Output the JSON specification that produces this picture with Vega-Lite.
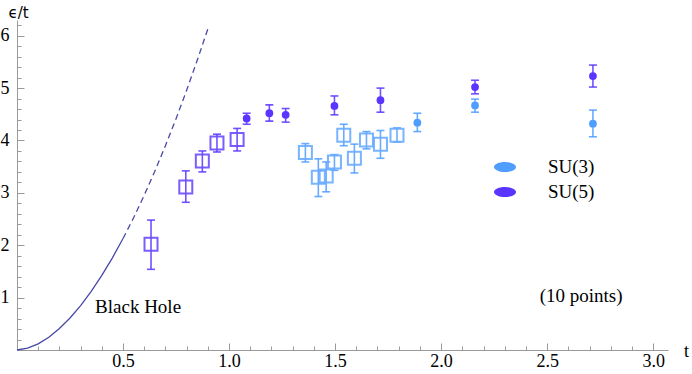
{
  "$schema": "https://vega.github.io/schema/vega-lite/v6.json",
  "autosize": {"type": "none"},
  "width": 651,
  "height": 330,
  "padding": {"left": 17, "top": 20, "right": 24, "bottom": 24},
  "background": "white",
  "config": {
    "font": "Liberation Serif",
    "view": {"stroke": null},
    "style": {"guide-label": {"font": "Liberation Serif"}, "guide-title": {"font": "Liberation Serif"}},
    "axis": {
      "grid": false,
      "domainColor": "#9a9a9a",
      "tickColor": "#9a9a9a",
      "labelFont": "Liberation Serif",
      "labelFontSize": 18,
      "labelColor": "#000000",
      "titleColor": "#000000",
      "titleFontWeight": "normal"
    },
    "legend": {"labelFont": "Liberation Serif"},
    "text": {"font": "Liberation Serif", "fontSize": 19, "color": "#000000"}
  },
  "resolve": {"axis": {"x": "independent", "y": "independent"}},
  "datasets": {
    "curve": [
      {"t": 0, "eps": 0},
      {"t": 0.05, "eps": 0.034},
      {"t": 0.1, "eps": 0.117},
      {"t": 0.15, "eps": 0.244},
      {"t": 0.2, "eps": 0.409},
      {"t": 0.25, "eps": 0.611},
      {"t": 0.3, "eps": 0.848},
      {"t": 0.35, "eps": 1.12},
      {"t": 0.4, "eps": 1.424},
      {"t": 0.45, "eps": 1.76},
      {"t": 0.5, "eps": 2.128},
      {"t": 0.55, "eps": 2.526},
      {"t": 0.6, "eps": 2.955},
      {"t": 0.65, "eps": 3.413},
      {"t": 0.7, "eps": 3.9},
      {"t": 0.75, "eps": 4.415},
      {"t": 0.8, "eps": 4.959},
      {"t": 0.85, "eps": 5.531},
      {"t": 0.9, "eps": 6.13}
    ],
    "labels": [
      {"label": "Black Hole", "t": 0.571, "eps": 0.71},
      {"label": "(10 points)", "t": 2.66, "eps": 0.92}
    ],
    "pts": [
      {"series": "SU(5)", "type": "open", "t": 0.632, "eps": 2.02, "lo": 1.54, "hi": 2.48},
      {"series": "SU(5)", "type": "open", "t": 0.796, "eps": 3.11, "lo": 2.82, "hi": 3.42},
      {"series": "SU(5)", "type": "open", "t": 0.874, "eps": 3.61, "lo": 3.4, "hi": 3.8},
      {"series": "SU(5)", "type": "open", "t": 0.943, "eps": 3.95, "lo": 3.78, "hi": 4.12},
      {"series": "SU(5)", "type": "open", "t": 1.038, "eps": 4.02, "lo": 3.8, "hi": 4.23},
      {"series": "SU(5)", "type": "filled", "t": 1.083, "eps": 4.42, "lo": 4.31, "hi": 4.52},
      {"series": "SU(5)", "type": "filled", "t": 1.19, "eps": 4.52, "lo": 4.37, "hi": 4.68},
      {"series": "SU(5)", "type": "filled", "t": 1.267, "eps": 4.49, "lo": 4.35, "hi": 4.61},
      {"series": "SU(5)", "type": "filled", "t": 1.497, "eps": 4.66, "lo": 4.49, "hi": 4.85},
      {"series": "SU(5)", "type": "filled", "t": 1.714, "eps": 4.77, "lo": 4.54, "hi": 5.0},
      {"series": "SU(5)", "type": "filled", "t": 2.16, "eps": 5.02, "lo": 4.89, "hi": 5.15},
      {"series": "SU(5)", "type": "filled", "t": 2.716, "eps": 5.23, "lo": 5.02, "hi": 5.44},
      {"series": "SU(3)", "type": "open", "t": 1.36, "eps": 3.77, "lo": 3.59, "hi": 3.94},
      {"series": "SU(3)", "type": "open", "t": 1.421, "eps": 3.3, "lo": 2.93, "hi": 3.65},
      {"series": "SU(3)", "type": "open", "t": 1.458, "eps": 3.32, "lo": 3.02, "hi": 3.59},
      {"series": "SU(3)", "type": "open", "t": 1.497, "eps": 3.59, "lo": 3.43, "hi": 3.73},
      {"series": "SU(3)", "type": "open", "t": 1.541, "eps": 4.1, "lo": 3.9, "hi": 4.31},
      {"series": "SU(3)", "type": "open", "t": 1.591, "eps": 3.66, "lo": 3.38, "hi": 3.93},
      {"series": "SU(3)", "type": "open", "t": 1.648, "eps": 4.01, "lo": 3.84, "hi": 4.17},
      {"series": "SU(3)", "type": "open", "t": 1.714, "eps": 3.93, "lo": 3.66, "hi": 4.19},
      {"series": "SU(3)", "type": "open", "t": 1.792, "eps": 4.1, "lo": 3.97, "hi": 4.24},
      {"series": "SU(3)", "type": "filled", "t": 1.888, "eps": 4.34, "lo": 4.17, "hi": 4.52},
      {"series": "SU(3)", "type": "filled", "t": 2.16, "eps": 4.67, "lo": 4.54, "hi": 4.79},
      {"series": "SU(3)", "type": "filled", "t": 2.716, "eps": 4.32, "lo": 4.07, "hi": 4.58}
    ]
  },
  "layer": [
    {
      "data": {"name": "curve"},
      "transform": [{"filter": "datum.t <= 0.5"}],
      "mark": {"type": "line", "color": "#4848a8", "strokeWidth": 1.3},
      "encoding": {
        "x": {
          "field": "t", "type": "quantitative",
          "scale": {"domain": [0, 3.07], "nice": false, "zero": false},
          "axis": {
            "orient": "bottom",
            "title": "t",
            "titleFont": "Liberation Serif",
            "titleFontSize": 18,
            "titleAngle": 0,
            "titleX": 669,
            "titleY": 6,
            "titleAlign": "center",
            "titleBaseline": "alphabetic",
            "values": [0.5, 1, 1.5, 2, 2.5, 3],
            "format": ".1f",
            "labelFont": "Liberation Serif",
            "tickSize": -7,
            "labelPadding": 9,
            "labelFlush": false,
            "labelOverlap": false
          }
        },
        "y": {
          "field": "eps", "type": "quantitative",
          "scale": {"domain": [0, 6.3], "nice": false, "zero": false},
          "axis": {
            "orient": "left",
            "title": "ϵ/t",
            "titleFont": "DejaVu Sans",
            "titleFontSize": 15,
            "titleAngle": 0,
            "titleX": 1,
            "titleY": -3,
            "titleAlign": "center",
            "titleBaseline": "alphabetic",
            "values": [1, 2, 3, 4, 5, 6],
            "format": "d",
            "labelFont": "Liberation Serif",
            "tickSize": -7,
            "labelPadding": 15,
            "labelFlush": false,
            "labelOverlap": false
          }
        }
      }
    },
    {
      "data": {"name": "curve"},
      "transform": [{"filter": "datum.t >= 0.5"}],
      "mark": {"type": "line", "color": "#4848a8", "strokeWidth": 1.3, "strokeDash": [6, 4]},
      "encoding": {
        "x": {
          "field": "t", "type": "quantitative",
          "axis": {
            "orient": "bottom",
            "title": null,
            "domain": false,
            "labels": false,
            "tickSize": -4,
            "values": [0.1, 0.2, 0.3, 0.4, 0.6, 0.7, 0.8, 0.9, 1.1, 1.2, 1.3, 1.4, 1.6, 1.7, 1.8, 1.9, 2.1, 2.2, 2.3, 2.4, 2.6, 2.7, 2.8, 2.9]
          }
        },
        "y": {
          "field": "eps", "type": "quantitative",
          "axis": {
            "orient": "left",
            "title": null,
            "domain": false,
            "labels": false,
            "tickSize": -4,
            "values": [0.2, 0.4, 0.6, 0.8, 1.2, 1.4, 1.6, 1.8, 2.2, 2.4, 2.6, 2.8, 3.2, 3.4, 3.6, 3.8, 4.2, 4.4, 4.6, 4.8, 5.2, 5.4, 5.6, 5.8, 6.2]
          }
        }
      }
    },
    {
      "data": {"name": "pts"},
      "mark": {"type": "rule", "strokeWidth": 1.6, "opacity": 0.85},
      "encoding": {
        "x": {"field": "t", "type": "quantitative", "axis": null},
        "y": {"field": "lo", "type": "quantitative", "axis": null},
        "y2": {"field": "hi"},
        "color": {
          "field": "series", "type": "nominal",
          "scale": {"domain": ["SU(3)", "SU(5)"], "range": ["#4f9dff", "#5a34ff"]},
          "legend": {
            "title": null,
            "orient": "none",
            "legendX": 477,
            "legendY": 136,
            "padding": 0,
            "symbolType": "M-1,0A1,0.46 0 1,0 1,0A1,0.46 0 1,0 -1,0Z",
            "symbolSize": 484,
            "symbolStrokeWidth": 0,
            "symbolOpacity": 1,
            "labelFont": "Liberation Serif",
            "labelFontSize": 19,
            "labelColor": "#000000",
            "labelOffset": 32,
            "rowPadding": 4,
            "encode": {
              "symbols": {"update": {"fill": {"scale": "color", "field": "value"}, "stroke": {"value": "transparent"}}}
            }
          }
        }
      }
    },
    {
      "data": {"name": "pts"},
      "transform": [{"fold": ["lo", "hi"], "as": ["end", "val"]}],
      "mark": {"type": "tick", "orient": "horizontal", "size": 8, "thickness": 1.6, "opacity": 0.85},
      "encoding": {
        "x": {"field": "t", "type": "quantitative", "axis": null},
        "y": {"field": "val", "type": "quantitative", "axis": null},
        "color": {"field": "series", "type": "nominal"}
      }
    },
    {
      "data": {"name": "pts"},
      "transform": [{"filter": "datum.type == 'open'"}],
      "mark": {"type": "point", "shape": "square", "filled": false, "size": 169, "strokeWidth": 2, "opacity": 0.9},
      "encoding": {
        "x": {"field": "t", "type": "quantitative", "axis": null},
        "y": {"field": "eps", "type": "quantitative", "axis": null},
        "stroke": {"field": "series", "type": "nominal", "scale": {"domain": ["SU(3)", "SU(5)"], "range": ["#6aacff", "#6c4cff"]}, "legend": null}
      }
    },
    {
      "data": {"name": "pts"},
      "transform": [{"filter": "datum.type == 'filled'"}],
      "mark": {"type": "point", "shape": "circle", "filled": true, "size": 60, "opacity": 1},
      "encoding": {
        "x": {"field": "t", "type": "quantitative", "axis": null},
        "y": {"field": "eps", "type": "quantitative", "axis": null},
        "color": {"field": "series", "type": "nominal"}
      }
    },
    {
      "data": {"name": "labels"},
      "mark": {"type": "text", "align": "center", "baseline": "alphabetic"},
      "encoding": {
        "x": {"field": "t", "type": "quantitative", "axis": null},
        "y": {"field": "eps", "type": "quantitative", "axis": null},
        "text": {"field": "label"}
      }
    }
  ]
}
